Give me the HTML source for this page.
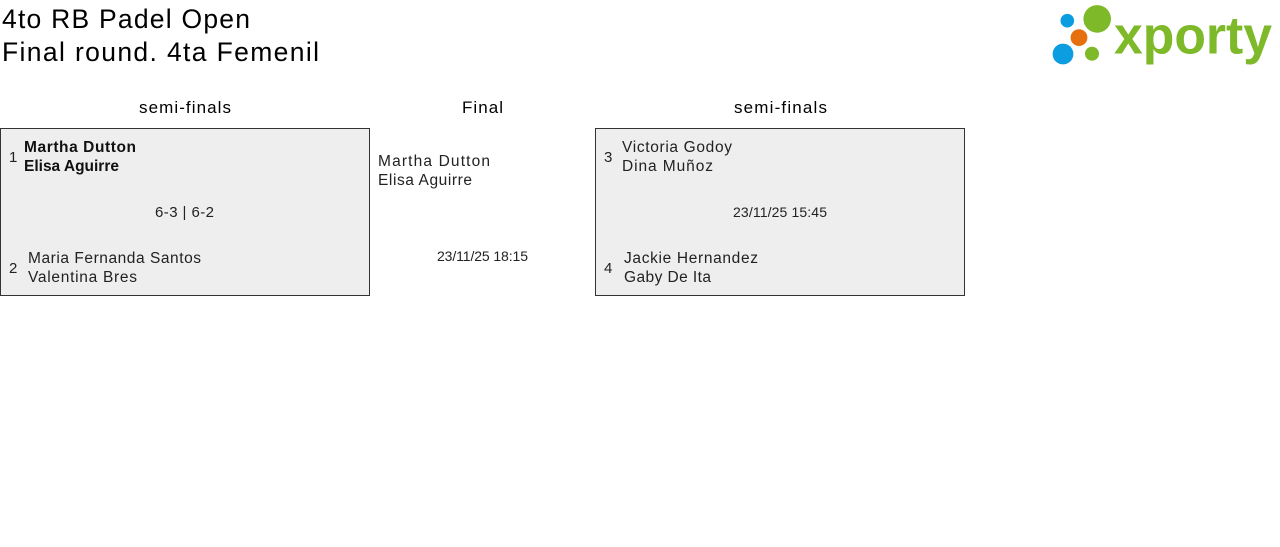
<!DOCTYPE html>
<html>
<head>
<meta charset="utf-8">
<style>
html,body{margin:0;padding:0;background:#fff;}
svg{display:block;}
text{font-family:"Liberation Sans",Arial,sans-serif;}
</style>
</head>
<body>
<svg width="1280" height="547" viewBox="0 0 1280 547" xmlns="http://www.w3.org/2000/svg">
<rect x="0" y="0" width="1280" height="547" fill="#fff"/>

<!-- Title -->
<text x="2" y="28" font-size="26.5" fill="#000" textLength="248" lengthAdjust="spacing">4to RB Padel Open</text>
<text x="2" y="61" font-size="26.5" fill="#000" textLength="317" lengthAdjust="spacing">Final round. 4ta Femenil</text>

<!-- Logo -->
<circle cx="1067.3" cy="20.7" r="6.8" fill="#0b9de0"/>
<circle cx="1097.2" cy="18.9" r="13.8" fill="#7db928"/>
<circle cx="1079" cy="37.6" r="8.4" fill="#e5700d"/>
<circle cx="1063" cy="54" r="10.4" fill="#0b9de0"/>
<circle cx="1092" cy="53.7" r="7" fill="#7db928"/>
<text x="1114" y="53.5" font-size="53" font-weight="bold" fill="#7db928" textLength="158" lengthAdjust="spacingAndGlyphs">xporty</text>

<!-- Headers -->
<text x="139" y="113" font-size="17" fill="#000" textLength="92" lengthAdjust="spacing">semi-finals</text>
<text x="462" y="113" font-size="17" fill="#000" textLength="41" lengthAdjust="spacing">Final</text>
<text x="734" y="113" font-size="17" fill="#000" textLength="93" lengthAdjust="spacing">semi-finals</text>

<!-- Box 1 -->
<rect x="0.5" y="128.5" width="369" height="167" fill="#eeeeee" stroke="#333" stroke-width="1"/>
<text x="9" y="162" font-size="15" fill="#222">1</text>
<text x="24" y="152" font-size="15.5" font-weight="bold" fill="#111" textLength="112" lengthAdjust="spacing">Martha Dutton</text>
<text x="24" y="171" font-size="15.5" font-weight="bold" fill="#111" textLength="95" lengthAdjust="spacing">Elisa Aguirre</text>
<text x="155" y="217" font-size="15" fill="#222" textLength="59" lengthAdjust="spacing">6-3 | 6-2</text>
<text x="9" y="273" font-size="15" fill="#222">2</text>
<text x="28" y="263" font-size="15.5" fill="#222" textLength="173" lengthAdjust="spacing">Maria Fernanda Santos</text>
<text x="28" y="282" font-size="15.5" fill="#222" textLength="109" lengthAdjust="spacing">Valentina Bres</text>

<!-- Final -->
<text x="378" y="166" font-size="15.5" fill="#222" textLength="112" lengthAdjust="spacing">Martha Dutton</text>
<text x="378" y="185" font-size="15.5" fill="#222" textLength="94" lengthAdjust="spacing">Elisa Aguirre</text>
<text x="437" y="261" font-size="14" fill="#222" textLength="91" lengthAdjust="spacing">23/11/25 18:15</text>

<!-- Box 2 -->
<rect x="595.5" y="128.5" width="369" height="167" fill="#eeeeee" stroke="#333" stroke-width="1"/>
<text x="604" y="162" font-size="15" fill="#222">3</text>
<text x="622" y="152" font-size="15.5" fill="#222" textLength="110" lengthAdjust="spacing">Victoria Godoy</text>
<text x="622" y="171" font-size="15.5" fill="#222" textLength="91" lengthAdjust="spacing">Dina Muñoz</text>
<text x="733" y="217" font-size="14" fill="#222" textLength="94" lengthAdjust="spacing">23/11/25 15:45</text>
<text x="604" y="273" font-size="15" fill="#222">4</text>
<text x="624" y="263" font-size="15.5" fill="#222" textLength="134" lengthAdjust="spacing">Jackie Hernandez</text>
<text x="624" y="282" font-size="15.5" fill="#222" textLength="87" lengthAdjust="spacing">Gaby De Ita</text>
</svg>
</body>
</html>
